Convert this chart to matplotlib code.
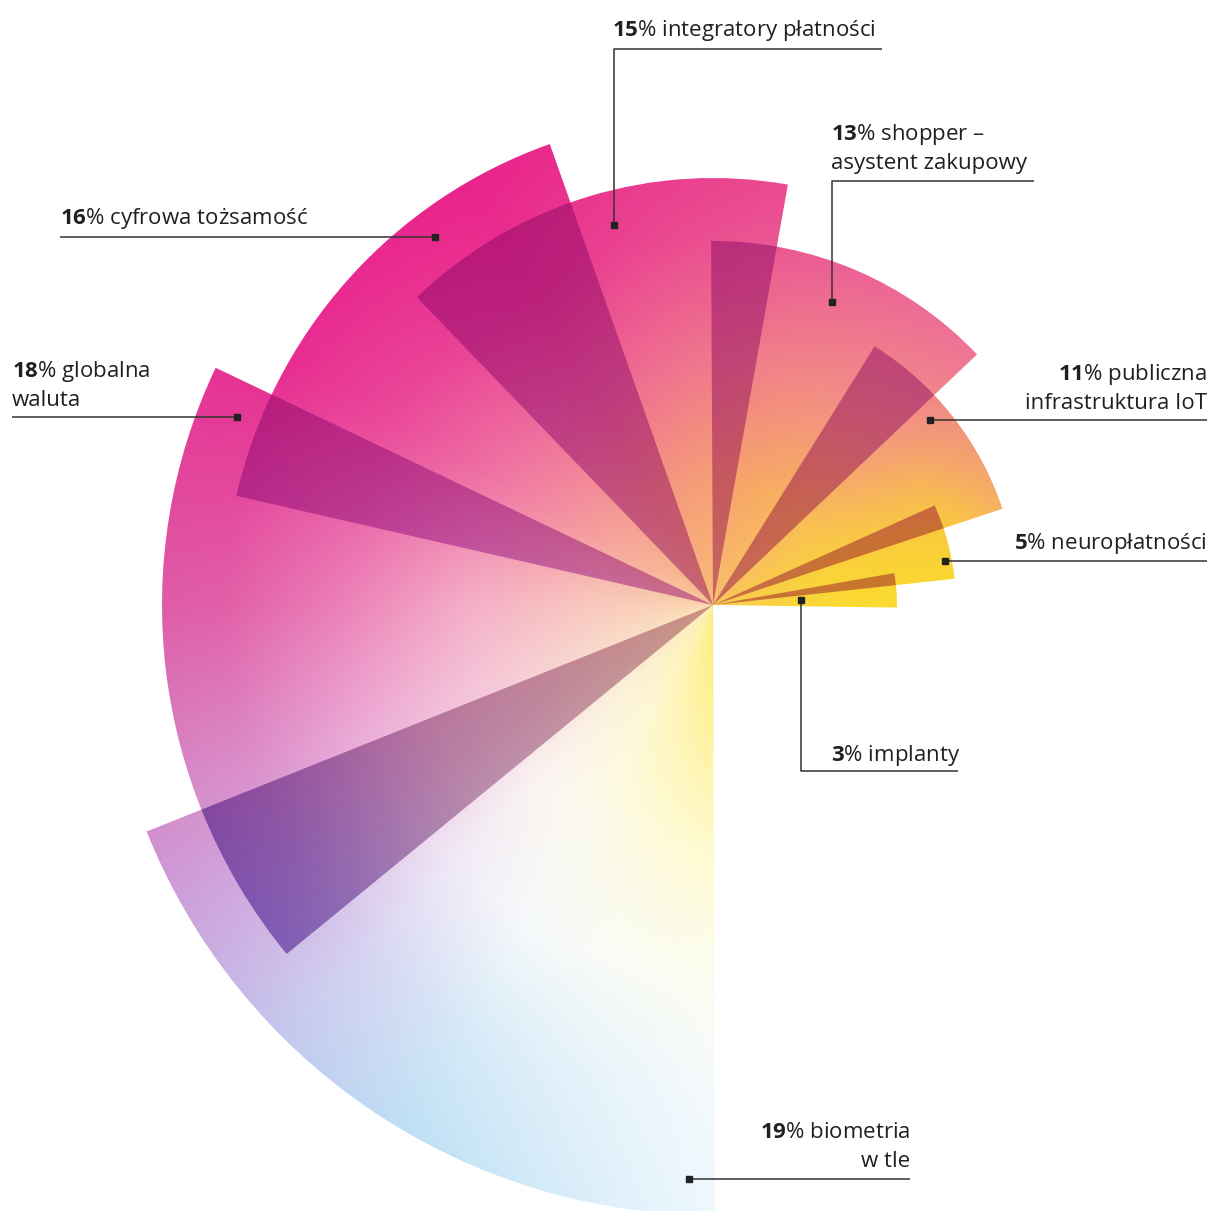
import numpy as np
import matplotlib
matplotlib.use("Agg")
import matplotlib.pyplot as plt
from matplotlib.patches import Wedge

plt.rcParams['font.family'] = ['Open Sans', 'DejaVu Sans']
plt.rcParams['mathtext.fontset'] = 'custom'
plt.rcParams['mathtext.rm'] = 'Open Sans'
plt.rcParams['mathtext.bf'] = 'Open Sans:bold'

# share of answers (%) and category names
PCT = [3, 5, 11, 13, 15, 16, 18, 19]
NAMES = ["implanty", "neuropłatności", "publiczna\ninfrastruktura IoT",
         "shopper –\nasystent zakupowy", "integratory płatności",
         "cyfrowa tożsamość", "globalna\nwaluta", "biometria\nw tle"]
# where each fan blade starts (deg, counter-clockwise from east) and its length
THETA0 = [-0.8, 6.2, 18.4, 43.5, 79.9, 109.5, 154.5, 201.8]
RADIUS = [184, 243, 305, 364, 427, 489, 551, 610]

DEG_PER_PCT = 3.6
RMAX = 610.0

# colour field: rows = angle stops, cols = radius stops (fraction of RMAX)
ANG = np.array([0, 20, 45, 70, 90, 120, 150, 180, 210, 225, 240, 270])
RHO = np.array([0, .2, .4, .6, .8, 1.0])
TABLE = np.array([
    [(250, 205, 80), (250, 218, 50), (250, 222, 42), (246, 195, 100), (242, 170, 130), (242, 170, 130)],
    [(250, 200, 85), (250, 208, 60), (250, 200, 62), (242, 150, 140), (240, 140, 145), (240, 140, 145)],
    [(250, 195, 100), (249, 188, 90), (243, 150, 130), (238, 115, 150), (236, 100, 150), (236, 100, 150)],
    [(250, 190, 110), (247, 170, 100), (242, 135, 135), (236, 95, 150), (234, 70, 145), (234, 70, 145)],
    [(250, 188, 115), (246, 160, 115), (240, 120, 140), (234, 80, 145), (232, 55, 140), (232, 55, 140)],
    [(250, 190, 130), (245, 150, 135), (238, 100, 150), (234, 55, 145), (234, 35, 140), (234, 35, 140)],
    [(250, 200, 150), (246, 165, 160), (240, 120, 165), (234, 75, 155), (232, 45, 145), (230, 40, 145)],
    [(252, 215, 175), (249, 200, 190), (244, 175, 200), (236, 130, 185), (226, 95, 168), (220, 90, 165)],
    [(253, 232, 185), (250, 225, 210), (246, 212, 226), (236, 195, 230), (214, 170, 222), (205, 162, 220)],
    [(254, 238, 180), (252, 242, 218), (251, 244, 242), (240, 234, 247), (215, 212, 242), (196, 200, 238)],
    [(255, 242, 170), (254, 248, 210), (253, 251, 238), (247, 250, 251), (215, 235, 248), (190, 224, 245)],
    [(255, 236, 115), (255, 242, 155), (255, 250, 205), (253, 253, 240), (245, 250, 253), (238, 248, 253)],
], dtype=float) / 255.0

# overlap of two neighbouring blades is darker (multiply-like tint)
TINT = np.array([0.80, 0.55, 0.85])
# the last overlap turns from mauve near the hub to violet at the rim
TINT_LAST_RHO = [0.0, 0.5, 0.9]
TINT_LAST = np.array([[0.80, 0.64, 0.70], [0.76, 0.62, 0.72], [0.62, 0.50, 0.78]])

# label layout in picture pixels: text anchor, alignment, leader polyline
LABEL_POS = [
    ((831, 761), 'left', [(801, 600), (801, 771), (958, 771)]),
    ((1207, 549), 'right', [(945, 561), (1207, 561)]),
    ((1207, 380), 'right', [(930, 420), (1207, 420)]),
    ((831, 140), 'left', [(832, 302), (832, 181), (1034, 181)]),
    ((612, 36), 'left', [(614, 225), (614, 49), (882, 49)]),
    ((60, 224), 'left', [(435, 237), (60, 237)]),
    ((12, 377), 'left', [(237, 417), (12, 417)]),
    ((910, 1138), 'right', [(689, 1179), (910, 1179)]),
]
LINE_STEP = 29
CX, CY = 713, 605
W, H = 1210, 1211
INK = '#231f20'


def px(x, y):
    return x - CX, CY - y


def field(x, y):
    phi = np.degrees(np.arctan2(y, x)) % 360
    phi = np.where(phi > 315, 0, phi)
    phi = np.clip(phi, 0, 270)
    rho = np.clip(np.hypot(x, y) / RMAX, 0, 1)
    fa = np.interp(phi, ANG, np.arange(len(ANG)))
    fr = np.interp(rho, RHO, np.arange(len(RHO)))
    a0 = np.minimum(fa.astype(int), len(ANG) - 2)
    r0 = np.minimum(fr.astype(int), len(RHO) - 2)
    ta = (fa - a0)[..., None]
    tr = (fr - r0)[..., None]
    return (TABLE[a0, r0] * (1 - ta) * (1 - tr) + TABLE[a0 + 1, r0] * ta * (1 - tr)
            + TABLE[a0, r0 + 1] * (1 - ta) * tr + TABLE[a0 + 1, r0 + 1] * ta * tr)


fig = plt.figure(figsize=(W / 100, H / 100), dpi=100)
ax = fig.add_axes([0, 0, 1, 1])
x0, x1 = -CX, W - CX
y0, y1 = CY - H, CY
ax.set_xlim(x0, x1)
ax.set_ylim(y0, y1)
ax.axis('off')

gx, gy = np.meshgrid(np.linspace(x0, x1, 605), np.linspace(y0, y1, 606))
base = np.clip(field(gx, gy), 0, 1)
ext = (x0, x1, y0, y1)

grho = np.hypot(gx, gy) / RMAX
last_tint = np.stack([np.interp(grho, TINT_LAST_RHO, TINT_LAST[:, c]) for c in range(3)], axis=-1)

widths = [p * DEG_PER_PCT for p in PCT]

# single blades
for t0, w, r in zip(THETA0, widths, RADIUS):
    wedge = Wedge((0, 0), r, t0, t0 + w, facecolor='none', edgecolor='none')
    ax.add_patch(wedge)
    im = ax.imshow(base, extent=ext, origin='lower', interpolation='bilinear', zorder=1)
    im.set_clip_path(wedge)

# darker zones where neighbours overlap
for i in range(len(PCT) - 1):
    a = THETA0[i + 1]
    b = THETA0[i] + widths[i]
    r = min(RADIUS[i], RADIUS[i + 1])
    tint = last_tint if i == len(PCT) - 2 else TINT
    wedge = Wedge((0, 0), r, a, b, facecolor='none', edgecolor='none')
    ax.add_patch(wedge)
    im = ax.imshow(np.clip(base * tint, 0, 1), extent=ext, origin='lower',
                   interpolation='bilinear', zorder=2)
    im.set_clip_path(wedge)

# labels with leader lines
for pct, name, (anchor, ha, leader) in zip(PCT, NAMES, LABEL_POS):
    lines = name.split('\n')
    lines[0] = r'$\mathbf{%d}$%% %s' % (pct, lines[0])
    for k, line in enumerate(lines):
        tx, ty = px(anchor[0], anchor[1] + k * LINE_STEP)
        ax.text(tx, ty, line, ha=ha, va='baseline', fontsize=16, color=INK, zorder=5)
    pts = np.array([px(*p) for p in leader])
    ax.plot(pts[:, 0], pts[:, 1], color='#333333', lw=1.1, zorder=4, solid_capstyle='butt')
    ax.plot(pts[0, 0], pts[0, 1], marker='s', ms=5, color='#222222', zorder=4)

fig.savefig('out.png', dpi=100, facecolor='white')
